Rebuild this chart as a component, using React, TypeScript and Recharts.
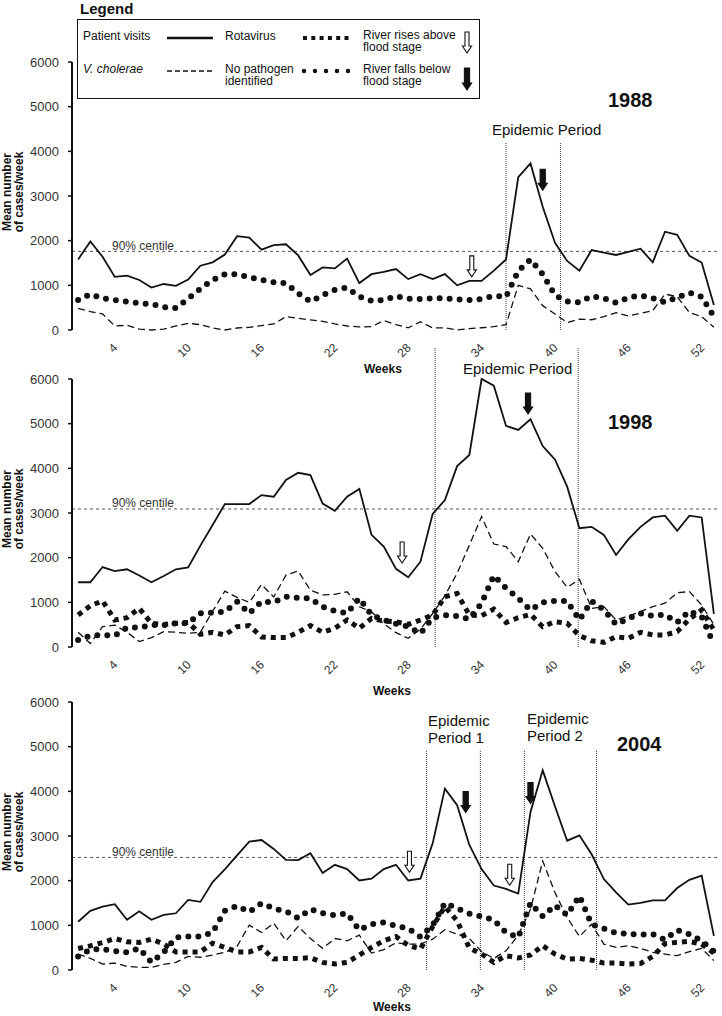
import { LineChart, Line, XAxis, YAxis, ReferenceLine, ReferenceDot } from 'recharts';

const weeks = [
  1, 2, 3, 4, 5, 6, 7, 8, 9, 10, 11, 12, 13, 14, 15, 16, 17, 18, 19, 20, 21, 22, 23, 24, 25, 26, 27,
  28, 29, 30, 31, 32, 33, 34, 35, 36, 37, 38, 39, 40, 41, 42, 43, 44, 45, 46, 47, 48, 49, 50, 51, 52, 53,
];
const weekTicks = [4, 10, 16, 22, 28, 34, 40, 46, 52];
const yTicks = [0, 1000, 2000, 3000, 4000, 5000, 6000];

// 1988
const visits1988 = [1580, 1980, 1640, 1190, 1216, 1120, 950, 1030, 990, 1130, 1440, 1515, 1690, 2100, 2070, 1800, 1900, 1920, 1670, 1230, 1400, 1380, 1600, 1050, 1250, 1300, 1365, 1140, 1250, 1140, 1250, 1000, 1100, 1100, 1330, 1580, 3420, 3730, 2760, 1955, 1545, 1330, 1790, 1730, 1680, 1750, 1820, 1515, 2200, 2130, 1660, 1510, 560];
const cholera1988 = [485, 410, 360, 90, 105, 20, 0, 20, 90, 150, 120, 45, 0, 45, 60, 100, 135, 300, 260, 225, 195, 135, 90, 70, 75, 210, 120, 50, 185, 45, 50, 0, 30, 50, 75, 120, 1000, 920, 545, 360, 165, 245, 230, 300, 390, 315, 375, 435, 805, 745, 390, 300, 60];
const noPathogen1988 = [670, 805, 710, 670, 635, 600, 580, 510, 490, 700, 925, 1120, 1250, 1250, 1180, 1120, 1070, 1045, 820, 635, 780, 900, 950, 745, 655, 670, 760, 700, 695, 710, 710, 685, 670, 695, 760, 745, 1320, 1580, 1250, 780, 640, 620, 760, 710, 610, 725, 775, 710, 620, 730, 835, 745, 300];
const centile1988 = 1760;
const periods1988 = [36, 40.45];
const periodTop1988 = 4200;
const rises1988 = [{ week: 33.2, value: 1190 }];
const falls1988 = [{ week: 39.0, value: 3130 }];

// 1998
const visits1998 = [1450, 1450, 1790, 1700, 1740, 1600, 1450, 1590, 1740, 1780, 2270, 2730, 3200, 3200, 3200, 3400, 3365, 3740, 3900, 3850, 3210, 3050, 3365, 3540, 2510, 2250, 1750, 1560, 1910, 2980, 3290, 4050, 4300, 6000, 5850, 4950, 4860, 5100, 4500, 4200, 3590, 2660, 2690, 2510, 2060, 2410, 2690, 2900, 2940, 2600, 2940, 2900, 740];
const cholera1998 = [330, 80, 455, 490, 330, 120, 210, 345, 330, 305, 330, 800, 1250, 1110, 1000, 1400, 1120, 1610, 1700, 1270, 1165, 1180, 1235, 900, 790, 520, 320, 195, 400, 750, 1150, 1650, 2280, 2920, 2305, 2250, 1910, 2530, 2210, 1690, 1335, 1515, 865, 905, 605, 695, 790, 905, 980, 1215, 1240, 940, 500];
const rota1998 = [715, 925, 1030, 605, 655, 865, 530, 505, 530, 550, 285, 330, 270, 455, 480, 225, 210, 210, 330, 480, 330, 420, 605, 420, 640, 580, 565, 505, 605, 715, 1125, 1200, 715, 700, 850, 550, 655, 730, 455, 565, 530, 255, 140, 105, 230, 195, 330, 270, 270, 345, 625, 830, 380];
const noPathogen1998 = [155, 255, 270, 255, 435, 435, 490, 490, 530, 530, 755, 770, 790, 1015, 755, 1015, 1000, 1125, 1100, 1090, 900, 805, 755, 1090, 715, 605, 520, 455, 305, 655, 710, 695, 625, 980, 1600, 1315, 1090, 830, 1000, 1030, 1030, 605, 1030, 830, 505, 640, 755, 695, 725, 550, 805, 680, 60];
const centile1998 = 3090;
const periods1998 = [30.2, 41.9];
const periodTop1998 = 6716;
const rises1998 = [{ week: 27.5, value: 1880 }];
const falls1998 = [{ week: 37.8, value: 5216 }];

// 2004
const visits2004 = [1080, 1325, 1420, 1475, 1125, 1315, 1125, 1235, 1270, 1570, 1525, 1970, 2255, 2565, 2875, 2910, 2710, 2465, 2460, 2615, 2170, 2355, 2260, 2005, 2045, 2260, 2355, 2005, 2045, 2835, 4060, 3690, 2800, 2260, 1890, 1815, 1710, 3540, 4470, 3665, 2895, 3015, 2590, 2035, 1740, 1465, 1505, 1560, 1560, 1835, 2020, 2110, 765];
const cholera2004 = [355, 260, 135, 155, 80, 60, 60, 125, 170, 305, 285, 335, 395, 530, 1005, 840, 1050, 655, 975, 705, 485, 705, 655, 780, 380, 455, 610, 580, 580, 690, 900, 805, 705, 410, 260, 430, 780, 1360, 2440, 1735, 1175, 750, 1025, 580, 505, 545, 485, 395, 355, 320, 410, 485, 210];
const rota2004 = [480, 540, 615, 705, 630, 615, 690, 580, 405, 405, 405, 600, 505, 405, 405, 505, 245, 260, 260, 275, 170, 135, 170, 335, 505, 655, 750, 550, 470, 970, 1420, 1100, 490, 360, 170, 320, 270, 335, 545, 355, 245, 260, 220, 155, 155, 135, 145, 305, 590, 620, 640, 580, 380];
const noPathogen2004 = [305, 455, 470, 425, 395, 485, 170, 395, 730, 750, 750, 840, 1325, 1435, 1300, 1495, 1375, 1315, 1160, 1360, 1270, 1225, 1265, 895, 1025, 1065, 990, 930, 740, 1000, 1500, 1380, 1260, 1200, 1120, 840, 730, 1500, 1200, 1450, 1230, 1660, 1020, 925, 830, 805, 790, 800, 680, 895, 800, 650, 420];
const centile2004 = 2520;
const periods2004 = [29.5, 33.9, 37.5, 43.4];
const periodTop2004 = 4933;
const rises2004 = [{ week: 28.1, value: 2188 }, { week: 36.3, value: 1897 }];
const falls2004 = [{ week: 32.7, value: 3527 }, { week: 38.0, value: 3728 }];

const INK = '#111';
const TEXT = '#333';
const FONT = 'Arial, "Liberation Sans", sans-serif';

function DownArrow({ x, y, filled, h = 21 }: { x: number; y: number; filled: boolean; h?: number }) {
  const sw = filled ? 2.6 : 2;
  const hw = 4.6;
  const hh = 7;
  const d = `M${x},${y} L${x - hw},${y - hh} L${x - sw},${y - hh} L${x - sw},${y - h} L${x + sw},${y - h} L${x + sw},${y - hh} L${x + hw},${y - hh} Z`;
  return <path d={d} fill={filled ? INK : '#fff'} stroke={INK} strokeWidth={1.1} />;
}

const WeekTick = ({ x, y, payload }: any) => {
  const ax = x + 3.5;
  const ay = y + 18.5;
  return (
    <text x={ax} y={ay} transform={`rotate(-45, ${ax}, ${ay})`} textAnchor="end" fontSize={12} fill={TEXT}>
      {payload.value}
    </text>
  );
};

const YLabel = ({ viewBox }: any) => {
  const cx = 13;
  const cy = viewBox ? viewBox.y + viewBox.height / 2 - 4 : 190;
  return (
    <text transform={`rotate(-90, ${cx}, ${cy})`} x={cx} y={cy} textAnchor="middle" fontSize={12} fontWeight="bold" fill={INK}>
      <tspan x={cx} dy={-2}>Mean number</tspan>
      <tspan x={cx} dy={12}>of cases/week</tspan>
    </text>
  );
};

const CentileLabel = ({ viewBox }: any) => {
  if (!viewBox) return null;
  return (
    <text x={viewBox.x + 40} y={viewBox.y - 1.5} fontSize={12} fill={TEXT}>
      90% centile
    </text>
  );
};

interface PanelProps {
  top: number;
  visits: number[];
  cholera: number[];
  rota?: number[];
  none: number[];
  centile: number;
  periods: number[];
  periodTop: number;
  rises: { week: number; value: number }[];
  falls: { week: number; value: number }[];
}

function Panel({ top, visits, cholera, rota, none, centile, periods, periodTop, rises, falls }: PanelProps) {
  const data = weeks.map((w, i) => ({
    week: w,
    visits: visits[i],
    cholera: cholera[i],
    rota: rota ? rota[i] : null,
    none: none[i],
  }));
  const boundaries = weeks.slice(0, -1).map((w) => w + 0.5);

  return (
    <div style={{ position: 'absolute', left: 0, top }}>
      <LineChart width={722} height={358} data={data} margin={{ top: 40, right: 2, bottom: 0, left: 0 }}>
        <XAxis
          xAxisId="minor"
          type="number"
          dataKey="week"
          domain={[0.5, 53.5]}
          ticks={boundaries}
          interval={0}
          tick={false}
          tickSize={2}
          tickLine={{ stroke: INK, strokeWidth: 2 }}
          axisLine={false}
          height={0}
        />
        <XAxis
          type="number"
          dataKey="week"
          domain={[0.5, 53.5]}
          ticks={weekTicks}
          interval={0}
          tick={<WeekTick />}
          tickLine={false}
          tickSize={0}
          tickMargin={0}
          axisLine={false}
          height={50}
        />
        <YAxis
          type="number"
          domain={[0, 6000]}
          ticks={yTicks}
          interval={0}
          width={72}
          tickSize={4}
          tickMargin={9}
          tick={{ fontSize: 13, fill: TEXT }}
          axisLine={{ stroke: INK, strokeWidth: 2 }}
          tickLine={{ stroke: INK, strokeWidth: 1.5 }}
          label={<YLabel />}
        />
        <ReferenceLine y={centile} stroke="#555" strokeDasharray="3 3" strokeWidth={1} label={<CentileLabel />} />
        {periods.map((p) => (
          <ReferenceLine
            key={p}
            segment={[{ x: p, y: 0 }, { x: p, y: periodTop }]}
            stroke="#444"
            strokeDasharray="1 1"
            strokeWidth={1}
            ifOverflow="visible"
          />
        ))}
        <Line type="linear" dataKey="none" stroke={INK} strokeWidth={6} strokeDasharray="0 10" strokeLinecap="round" dot={false} isAnimationActive={false} />
        {rota && (
          <Line type="linear" dataKey="rota" stroke={INK} strokeWidth={5} strokeDasharray="5 5" strokeLinecap="butt" dot={false} isAnimationActive={false} />
        )}
        <Line type="linear" dataKey="cholera" stroke={INK} strokeWidth={1.3} strokeDasharray="7 4" dot={false} isAnimationActive={false} />
        <Line type="linear" dataKey="visits" stroke={INK} strokeWidth={1.8} dot={false} isAnimationActive={false} />
        {rises.map((a) => (
          <ReferenceDot
            key={`r${a.week}`}
            x={a.week}
            y={a.value}
            r={0}
            ifOverflow="visible"
            shape={(p: any) => <DownArrow x={p.cx} y={p.cy} filled={false} />}
          />
        ))}
        {falls.map((a) => (
          <ReferenceDot
            key={`f${a.week}`}
            x={a.week}
            y={a.value}
            r={0}
            ifOverflow="visible"
            shape={(p: any) => <DownArrow x={p.cx} y={p.cy} filled />}
          />
        ))}
      </LineChart>
    </div>
  );
}

const abs = (left: number, top: number, extra: React.CSSProperties = {}): React.CSSProperties => ({
  position: 'absolute',
  left,
  top,
  whiteSpace: 'nowrap',
  ...extra,
});

function LegendBox() {
  const t12: React.CSSProperties = { fontSize: 12, lineHeight: '12px', color: INK };
  return (
    <>
      <div style={abs(80, 0, { fontSize: 15, lineHeight: '17px', fontWeight: 'bold', color: INK })}>Legend</div>
      <div
        style={{
          position: 'absolute',
          left: 77,
          top: 19,
          width: 403,
          height: 80,
          boxSizing: 'border-box',
          border: `1.5px solid ${INK}`,
          background: '#fff',
        }}
      >
        <svg width={403} height={80} style={{ position: 'absolute', left: -1.5, top: -1.5 }}>
          <line x1={90} y1={19} x2={136} y2={19} stroke={INK} strokeWidth={2.5} />
          <line x1={226} y1={19} x2={274} y2={19} stroke={INK} strokeWidth={4} strokeDasharray="4 4.3" />
          <line x1={90} y1={52} x2={136} y2={52} stroke={INK} strokeWidth={1.5} strokeDasharray="5 3" />
          <line x1={227} y1={52} x2={274} y2={52} stroke={INK} strokeWidth={4.5} strokeDasharray="0 11" strokeLinecap="round" />
          <DownArrow x={390} y={34} filled={false} />
          <DownArrow x={390} y={71} filled h={22} />
        </svg>
      </div>
      <div style={abs(83, 30, t12)}>Patient visits</div>
      <div style={abs(83, 63, { ...t12, fontStyle: 'italic' })}>V. cholerae</div>
      <div style={abs(225, 30, t12)}>Rotavirus</div>
      <div style={abs(225, 63, t12)}>
        No pathogen
        <br />
        identified
      </div>
      <div style={abs(363, 29, t12)}>
        River rises above
        <br />
        flood stage
      </div>
      <div style={abs(363, 63, t12)}>
        River falls below
        <br />
        flood stage
      </div>
    </>
  );
}

export default function App() {
  const year: React.CSSProperties = { fontSize: 20, lineHeight: '20px', fontWeight: 'bold', color: INK };
  const epi: React.CSSProperties = { fontSize: 15, lineHeight: '17px', color: INK };
  const wk: React.CSSProperties = { fontSize: 12, lineHeight: '14px', fontWeight: 'bold', color: INK };

  return (
    <div
      style={{
        position: 'absolute',
        left: 0,
        top: 0,
        width: 722,
        height: 1016,
        overflow: 'hidden',
        background: '#fff',
        fontFamily: FONT,
      }}
    >
      <Panel
        top={22}
        visits={visits1988}
        cholera={cholera1988}
        none={noPathogen1988}
        centile={centile1988}
        periods={periods1988}
        periodTop={periodTop1988}
        rises={rises1988}
        falls={falls1988}
      />
      <Panel
        top={339}
        visits={visits1998}
        cholera={cholera1998}
        rota={rota1998}
        none={noPathogen1998}
        centile={centile1998}
        periods={periods1998}
        periodTop={periodTop1998}
        rises={rises1998}
        falls={falls1998}
      />
      <Panel
        top={662}
        visits={visits2004}
        cholera={cholera2004}
        rota={rota2004}
        none={noPathogen2004}
        centile={centile2004}
        periods={periods2004}
        periodTop={periodTop2004}
        rises={rises2004}
        falls={falls2004}
      />

      <LegendBox />

      <div style={abs(608, 90, year)}>1988</div>
      <div style={abs(608, 412, year)}>1998</div>
      <div style={abs(617, 734, year)}>2004</div>

      <div style={abs(492, 121, epi)}>Epidemic Period</div>
      <div style={abs(463, 360, epi)}>Epidemic Period</div>
      <div style={abs(428, 712, epi)}>
        Epidemic
        <br />
        Period 1
      </div>
      <div style={abs(527, 710, epi)}>
        Epidemic
        <br />
        Period 2
      </div>

      <div style={abs(364, 362, wk)}>Weeks</div>
      <div style={abs(373, 684, wk)}>Weeks</div>
      <div style={abs(373, 1000, wk)}>Weeks</div>
    </div>
  );
}
